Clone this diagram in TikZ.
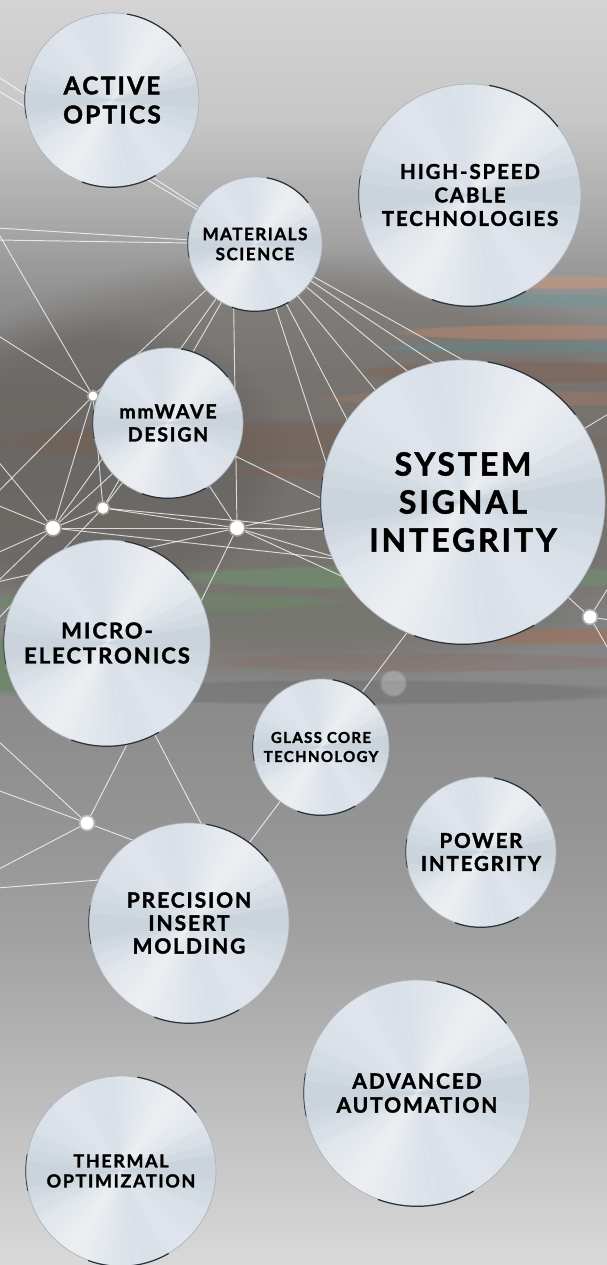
\documentclass[tikz,border=0pt]{standalone}
\usepackage{fontspec}
\setmainfont{Lato}[LetterSpace=9, BoldFeatures={FakeBold=1.6}]
\usetikzlibrary{fadings}
\pgfdeclarelayer{bgl}
\pgfdeclarelayer{netl}
\pgfdeclarelayer{dotl}
\pgfsetlayers{bgl,netl,dotl,main}
\definecolor{discbase}{HTML}{CCD6E1}
\definecolor{discdark}{HTML}{7A8696}
\definecolor{rimlight}{HTML}{A9B4C0}
\definecolor{rimdk}{HTML}{2A323C}
\definecolor{stpeach}{RGB}{196,150,124}
\definecolor{stteal}{RGB}{111,150,152}
\definecolor{storange}{RGB}{192,136,108}
\definecolor{stteal2}{RGB}{95,140,142}
\definecolor{stbrown}{RGB}{130,94,76}
\definecolor{storange2}{RGB}{170,122,96}
\definecolor{stbrown2}{RGB}{118,94,82}
\definecolor{stred}{RGB}{136,92,78}
\definecolor{stgreen}{RGB}{110,150,108}
\definecolor{stgreen2}{RGB}{106,140,100}
\definecolor{storange3}{RGB}{162,108,84}
\definecolor{stgreen3}{RGB}{94,134,86}
\definecolor{stmauve}{RGB}{136,108,100}
\definecolor{stgrgreen}{RGB}{108,122,106}
\definecolor{midbrown}{RGB}{112,104,96}
\pgfdeclareverticalshading{bgshade}{100bp}{%
color(0bp)=(black!15);
color(25bp)=(black!15);
color(31.5bp)=(black!26);
color(37.5bp)=(black!36);
color(41.4bp)=(black!41);
color(46.5bp)=(black!45);
color(49.7bp)=(black!48);
color(52.9bp)=(black!51);
color(56.8bp)=(black!53);
color(60bp)=(black!51);
color(63.1bp)=(black!44);
color(65.9bp)=(black!35);
color(70.3bp)=(black!22);
color(75bp)=(black!17);
color(100bp)=(black!17)}
\newcommand\metaldisc[7]{%
  \node[disc, minimum size={2*#4pt}, font=\fontsize{#5}{#6}\selectfont\bfseries] (#1) at (#2,#3) {#7};
  \draw[rimdark] (#1.38) arc[start angle=38,end angle=80,radius=#4pt];
  \draw[rimdark] (#1.250) arc[start angle=250,end angle=300,radius=#4pt];
  \draw[rimdark,line width=0.7pt] (#1.170) arc[start angle=170,end angle=192,radius=#4pt];
}
\begin{document}
\begin{tikzpicture}[x=1pt,y=-1pt,
  disc/.style={circle, inner sep=0pt, fill=discbase, draw=rimlight, line width=0.7pt,
    align=center, text=black,
    path picture={
      \fill[white, fill opacity=0.22] (path picture bounding box.center) circle[radius=300pt];
      \foreach \w in {44,38,32,26,21,16,12,8,5,2}{
        \foreach \a in {55,238}{
          \fill[white, fill opacity=0.09] (path picture bounding box.center) -- ++({\a-\w}:300pt)
            arc[start angle={\a-\w}, end angle={\a+\w}, radius=300pt] -- cycle;}}
      \foreach \w in {30,22,15,9,4}{
        \foreach \a in {128,308}{
          \fill[white, fill opacity=0.06] (path picture bounding box.center) -- ++({\a-\w}:300pt)
            arc[start angle={\a-\w}, end angle={\a+\w}, radius=300pt] -- cycle;}}
      \foreach \w in {26,16,8}{
        \foreach \a in {2,182}{
          \fill[discdark, fill opacity=0.04] (path picture bounding box.center) -- ++({\a-\w}:300pt)
            arc[start angle={\a-\w}, end angle={\a+\w}, radius=300pt] -- cycle;}}
    }},
  rimdark/.style={draw=rimdk, line width=1.2pt, line cap=round},
  net/.style={draw=white, draw opacity=0.75, line width=0.95pt},
  dot/.style={circle, fill=white, inner sep=0pt, draw=white, draw opacity=0.35, line width=3.5pt},
  streak/.style={fill=#1, path fading=circle with fuzzy edge 20 percent}
]
\useasboundingbox (0,0) rectangle (607,1265);

% ---------- discs ----------
\metaldisc{ao}{112}{100}{87}{24.5}{29}{ACTIVE\\OPTICS}
\metaldisc{mat}{255}{244}{67}{17}{20}{MATERIALS\\SCIENCE}
\metaldisc{hs}{470}{195}{111}{20.5}{23.5}{HIGH-SPEED\\CABLE\\TECHNOLOGIES}
\metaldisc{mmw}{168}{423}{75}{19.5}{23}{mmWAVE\\DESIGN}
\metaldisc{sys}{463}{502}{142}{32}{38}{SYSTEM\\SIGNAL\\INTEGRITY}
\metaldisc{mic}{107}{643}{103}{22}{25}{MICRO-\\ELECTRONICS}
\metaldisc{gl}{321}{747}{68}{15}{19}{GLASS CORE\\TECHNOLOGY}
\metaldisc{pw}{481}{852}{75}{20.5}{23}{POWER\\INTEGRITY}
\metaldisc{pr}{189}{923}{100}{21}{23}{PRECISION\\INSERT\\MOLDING}
\metaldisc{aa}{417}{1093}{113}{21}{24}{ADVANCED\\AUTOMATION}
\metaldisc{th}{121}{1171}{95}{18}{20}{THERMAL\\OPTIMIZATION}

% ---------- background ----------
\begin{pgfonlayer}{bgl}
\shade[shading=bgshade] (0,0) rectangle (607,1265);
\fill[streak=midbrown, fill opacity=0.45] (300,470) ellipse[x radius=420pt, y radius=220pt];
\fill[streak=black, fill opacity=0.08] (90,460) ellipse[x radius=200pt, y radius=150pt];
\fill[streak=stpeach, fill opacity=0.65] (565,282) ellipse[x radius=90pt, y radius=7pt];
\fill[streak=stteal, fill opacity=0.5] (560,300) ellipse[x radius=110pt, y radius=7pt];
\fill[streak=storange, fill opacity=0.5] (540,332) ellipse[x radius=150pt, y radius=8pt];
\fill[streak=stteal2, fill opacity=0.4] (520,347) ellipse[x radius=160pt, y radius=6pt];
\fill[streak=stbrown, fill opacity=0.45] (520,372) ellipse[x radius=170pt, y radius=12pt];
\fill[streak=storange2, fill opacity=0.4] (500,398) ellipse[x radius=190pt, y radius=9pt];
\fill[streak=stbrown2, fill opacity=0.45] (300,442) ellipse[x radius=330pt, y radius=22pt];
\fill[streak=stred, fill opacity=0.35] (430,472) ellipse[x radius=210pt, y radius=10pt];
\fill[streak=stgreen, fill opacity=0.5] (420,577) ellipse[x radius=270pt, y radius=13pt];
\fill[streak=stgreen2, fill opacity=0.45] (150,602) ellipse[x radius=210pt, y radius=11pt];
\fill[streak=storange3, fill opacity=0.5] (560,636) ellipse[x radius=120pt, y radius=9pt];
\fill[streak=stgreen3, fill opacity=0.55] (30,665) ellipse[x radius=90pt, y radius=32pt];
\fill[streak=stmauve, fill opacity=0.35] (420,662) ellipse[x radius=230pt, y radius=10pt];
\fill[streak=stgrgreen, fill opacity=0.3] (300,620) ellipse[x radius=310pt, y radius=16pt];
\fill[streak=black, fill opacity=0.1] (350,692) ellipse[x radius=300pt, y radius=13pt];
\fill[streak=white, fill opacity=0.25] (393,683) ellipse[x radius=14pt, y radius=14pt];
\end{pgfonlayer}

% ---------- dots ----------
\begin{pgfonlayer}{dotl}
\node[dot, minimum size=9pt]  (d1) at (93,396) {};
\node[dot, minimum size=11pt] (d2) at (103,508) {};
\node[dot, minimum size=14pt] (d3) at (53,528) {};
\node[dot, minimum size=14pt] (d4) at (237,528) {};
\node[dot, minimum size=13pt] (d5) at (87,823) {};
\node[dot, minimum size=13pt] (d6) at (590,617) {};
\end{pgfonlayer}

% ---------- network ----------
\begin{pgfonlayer}{netl}
\coordinate (e1) at (-3,76);  \coordinate (e2) at (-3,90);
\coordinate (e3) at (-3,228); \coordinate (e4) at (-3,240);
\coordinate (e5) at (-3,231); \coordinate (e6) at (-3,335);
\coordinate (e7) at (-3,493); \coordinate (e8) at (-3,460);
\coordinate (e9) at (-3,553); \coordinate (e10) at (-3,582);
\coordinate (e11) at (-3,620); \coordinate (e12) at (-3,505);
\coordinate (e13) at (-3,740); \coordinate (e14) at (-3,790);
\coordinate (e15) at (-3,870); \coordinate (e16) at (-3,888);
\coordinate (r1) at (610,413); \coordinate (r2) at (610,585);
\coordinate (r3) at (610,620); \coordinate (r4) at (610,652);
\coordinate (m1) at (233,262);
\coordinate (s1) at (330,475); \coordinate (s2) at (350,425);
\coordinate (s3) at (400,420); \coordinate (s4) at (430,390);
\coordinate (s5) at (460,380); \coordinate (s6) at (490,375);
\coordinate (s7) at (335,505); \coordinate (s8) at (335,530);
\coordinate (s9) at (345,560); \coordinate (s10) at (350,580);
\coordinate (sg) at (418,618);
\coordinate (mc1) at (170,660); \coordinate (mc2) at (182,640);
\coordinate (p1) at (215,850); \coordinate (p2) at (180,858);
\coordinate (p3) at (150,876);
\draw[net] (e1) -- (mat.center);
\draw[net] (e2) -- (mat.center);
\draw[net] (e3) -- (mat.center);
\draw[net] (e4) -- (mat.center);
\draw[net] (e5) -- (d1);
\draw[net] (e6) -- (d1);
\draw[net] (e7) -- (d1);
\draw[net] (mat.center) -- (d1);
\draw[net] (mat.center) -- (d2);
\draw[net] (mat.center) -- (d3);
\draw[net] (m1) -- (d4);
\foreach \s in {s1,s2,s3,s4,s5,s6} \draw[net] (mat.center) -- (\s);
\draw[net] (d1) -- (d2);
\draw[net] (d1) -- (d3);
\draw[net] (d1) -- (mmw.center);
\draw[net] (e8) -- (d3);
\draw[net] (e12) -- (d3);
\draw[net] (e9) -- (d3);
\draw[net] (e10) -- (d3);
\draw[net] (e11) -- (d2);
\draw[net] (e10) -- (d4);
\draw[net] (d3) -- (d2);
\draw[net] (d3) -- (d4);
\draw[net] (d2) -- (d4);
\draw[net] (d3) -- (mmw.center);
\draw[net] (d2) -- (mmw.center);
\draw[net] (d4) -- (mmw.center);
\draw[net] (mmw.center) -- (s7);
\foreach \s in {s7,s8,s9,s10} \draw[net] (d4) -- (\s);
\draw[net] (d3) -- (s9);
\draw[net] (d2) -- (s8);
\draw[net] (d4) -- (mc2);
\draw[net] (mc1) -- (d5);
\draw[net] (mic.center) -- (p1);
\draw[net] (e13) -- (d5);
\draw[net] (e14) -- (d5);
\draw[net] (e15) -- (d5);
\draw[net] (d5) -- (p2);
\draw[net] (e16) -- (p3);
\draw[net] (pr.center) -- (gl.center);
\draw[net] (gl.center) -- (sg);
\draw[net] (sys.center) -- (r1);
\draw[net] (d6) -- (sys.center);
\draw[net] (d6) -- (r2);
\draw[net] (d6) -- (r3);
\draw[net] (d6) -- (r4);
\end{pgfonlayer}
\end{tikzpicture}
\end{document}
